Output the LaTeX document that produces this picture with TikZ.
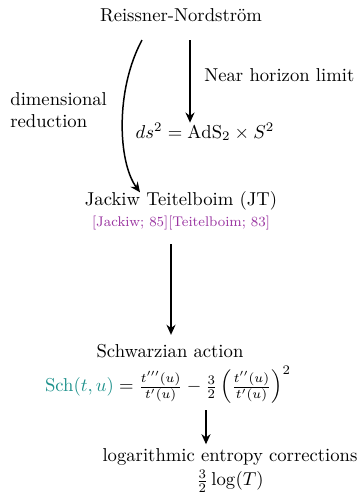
\documentclass[tikz,border=0pt]{standalone}
\usepackage{amsmath}
\usepackage{xcolor}
\usepackage{tikz}
\usetikzlibrary{arrows.meta, positioning, calc}
\definecolor{cCite}{RGB}{153,51,160}
\definecolor{cTeal}{RGB}{30,145,140}
\tikzset{
	label/.style  ={inner sep=0pt, align=center},
	sidenote/.style={inner sep=0pt, align=left},
	flowarrow/.style={-{Stealth[length=1.9mm, width=1.7mm]}, thick},
}

\begin{document}
\begin{tikzpicture}[x=0.01883cm, y=-0.01883cm]
	\useasboundingbox (0,0) rectangle (360,493);
	\node[label] (rn) at (181,15) {Reissner-Nordstr\"om};
	\node[label] (ads) at (205,132) {$ds^2 = \mathrm{AdS}_2 \times S^2$};
	\node[sidenote, anchor=west] (nhl) at (204,75) {Near horizon limit};
	\node[sidenote, anchor=west] (dimred) at (10,110) {dimensional\\reduction};
	\node[label] (jt) at (181,201) {Jackiw Teitelboim (JT)};
	\node[label, below=2.5pt of jt, font=\fontsize{7.5}{9}\selectfont, text=cCite] (cite) {[Jackiw; 85][Teitelboim; 83]};
	\node[label] (sch) at (170,351) {Schwarzian action};
	\node[label] (schform) at (168,385) {$\textcolor{cTeal}{\mathrm{Sch}(t,u)} = \frac{t'''(u)}{t'(u)} - \frac{3}{2}\left(\frac{t''(u)}{t'(u)}\right)^2$};
	\node[label, anchor=north] (log) at (230,448) {logarithmic entropy corrections\\[1pt] $\frac{3}{2}\log(T)$};
	% connector end points
	\coordinate (nhlA) at ($(rn.south)+(9,18)$);
	\coordinate (nhlB) at (nhlA |- ads.north);
	\coordinate (drA) at ($(rn.south)+(-39,18)$);
	\coordinate (drB) at ($(jt.north)+(-41,1)$);
	\coordinate (jtA) at ($(cite.south)+(-10,14)$);
	\coordinate (jtB) at ($(sch.north)+(1,-9)$);
	\coordinate (schA) at ($(schform.south)+(38,6)$);
	\coordinate (schB) at (schA |- log.north);
	\draw[flowarrow] (nhlA) -- (nhlB);
	\draw[flowarrow] (drA) .. controls +(-27,50) and +(-22,-30) .. (drB);
	\draw[flowarrow] (jtA) -- (jtB);
	\draw[flowarrow] (schA) -- ([yshift=2pt]schB);
\end{tikzpicture}
\end{document}
